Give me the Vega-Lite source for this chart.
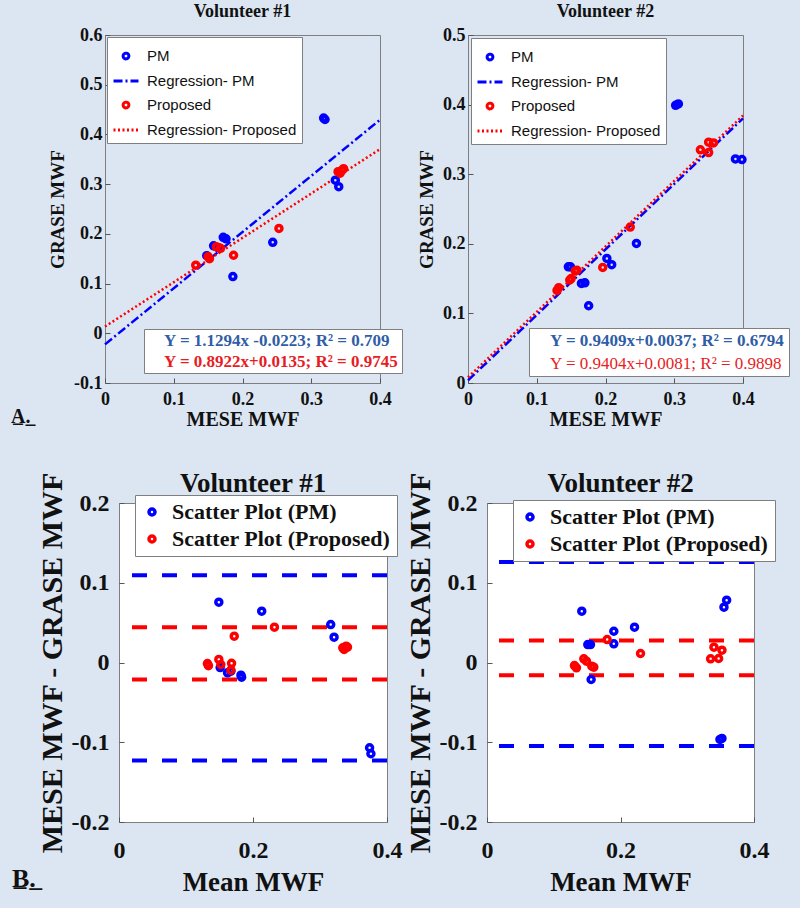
{
  "$schema": "https://vega.github.io/schema/vega-lite/v6.json",
  "background": "#dce6f2",
  "padding": {"left": 11, "top": 2, "right": 17, "bottom": 12},
  "spacing": 39,
  "center": true,
  "resolve": {"scale": {"color": "independent", "fill": "independent", "stroke": "independent"}, "legend": {"color": "independent", "fill": "independent", "stroke": "independent"}},
  "config": {
    "font": "Liberation Serif",
    "view": {"stroke": "#7f7f7f", "fill": "white"},
    "axis": {"grid": false, "domain": false, "tickColor": "#555555", "tickSize": -5, "format": "~g", "labelFont": "Liberation Serif", "labelFontWeight": "bold", "labelColor": "#111111", "titleFont": "Liberation Serif", "titleFontWeight": "bold", "titleColor": "#111111", "labelFlush": false, "labelOverlap": false, "labelBound": false},
    "title": {"font": "Liberation Serif", "fontWeight": "bold", "color": "#111111"},
    "legend": {"labelLimit": 400, "titleLimit": 0}
  },
  "vconcat": [
    {
      "resolve": {"scale": {"color": "independent", "fill": "independent", "stroke": "independent"}, "legend": {"color": "independent", "fill": "independent", "stroke": "independent"}},
      "hconcat": [
        {
          "width": 275, "height": 348,
          "title": {"text": "Volunteer #1", "fontSize": 18, "offset": 5},
          "data": {"values": [
            {"s": "PM", "x": 0.318, "y": 0.433}, {"s": "PM", "x": 0.320, "y": 0.430}, {"s": "PM", "x": 0.335, "y": 0.308}, {"s": "PM", "x": 0.340, "y": 0.295},
            {"s": "PM", "x": 0.172, "y": 0.193}, {"s": "PM", "x": 0.176, "y": 0.190}, {"s": "PM", "x": 0.158, "y": 0.176}, {"s": "PM", "x": 0.165, "y": 0.172},
            {"s": "PM", "x": 0.148, "y": 0.156}, {"s": "PM", "x": 0.244, "y": 0.183}, {"s": "PM", "x": 0.186, "y": 0.114},
            {"s": "Proposed", "x": 0.132, "y": 0.137}, {"s": "Proposed", "x": 0.150, "y": 0.154}, {"s": "Proposed", "x": 0.152, "y": 0.150}, {"s": "Proposed", "x": 0.162, "y": 0.174},
            {"s": "Proposed", "x": 0.168, "y": 0.171}, {"s": "Proposed", "x": 0.187, "y": 0.157}, {"s": "Proposed", "x": 0.253, "y": 0.211}, {"s": "Proposed", "x": 0.339, "y": 0.325},
            {"s": "Proposed", "x": 0.345, "y": 0.328}, {"s": "Proposed", "x": 0.347, "y": 0.331}, {"s": "Proposed", "x": 0.342, "y": 0.322},
            {"s": "Regression- PM", "x": 0, "y": -0.0223}, {"s": "Regression- PM", "x": 0.4, "y": 0.4295},
            {"s": "Regression- Proposed", "x": 0, "y": 0.0135}, {"s": "Regression- Proposed", "x": 0.4, "y": 0.3704}
          ]},
          "layer": [
            {
              "transform": [{"filter": "datum.s == 'Regression- PM'"}],
              "mark": {"type": "line", "strokeDash": [9, 3, 2, 3], "strokeWidth": 2.5},
              "encoding": {
                "x": {"field": "x", "type": "quantitative", "scale": {"domain": [0, 0.4], "nice": false, "zero": false}, "axis": {"values": [0, 0.1, 0.2, 0.3, 0.4], "title": "MESE MWF", "labelFontSize": 18, "titleFontSize": 20, "labelPadding": 12, "titlePadding": 1, "labelExpr": "replace(datum.label, '−', '-')"}},
                "y": {"field": "y", "type": "quantitative", "scale": {"domain": [-0.1, 0.6], "nice": false, "zero": false}, "axis": {"values": [-0.1, 0, 0.1, 0.2, 0.3, 0.4, 0.5, 0.6], "title": "GRASE MWF", "labelFontSize": 18, "titleFontSize": 19, "labelPadding": 8, "titlePadding": 6, "labelExpr": "replace(datum.label, '−', '-')"}},
                "color": {"field": "s", "type": "nominal", "scale": {"domain": ["PM", "Regression- PM", "Proposed", "Regression- Proposed"], "range": ["#0000ff", "#0000ff", "#ff0000", "#ff0000"]},
                  "legend": {"title": null, "orient": "top-left", "offset": 2, "padding": 5, "fillColor": "white", "strokeColor": "#7f7f7f", "labelFont": "Liberation Sans", "labelFontSize": 15, "labelColor": "#111111", "symbolSize": 625, "symbolStrokeWidth": 3, "labelOffset": 7, "rowPadding": 2, "symbolFillColor": "transparent",
                    "symbolType": {"expr": "indexof(datum.label, 'Regression') == 0 ? 'stroke' : 'M -0.23,0 A 0.23,0.23 0 1,1 0.23,0 A 0.23,0.23 0 1,1 -0.23,0 Z'"},
                    "symbolDash": {"expr": "datum.label == 'Regression- PM' ? [9, 3, 2, 3] : datum.label == 'Regression- Proposed' ? [2, 2.5] : [1, 0]"}}}
              }
            },
            {
              "transform": [{"filter": "datum.s == 'Regression- Proposed'"}],
              "mark": {"type": "line", "strokeDash": [2, 2.5], "strokeWidth": 2.5},
              "encoding": {
                "x": {"field": "x", "type": "quantitative"},
                "y": {"field": "y", "type": "quantitative"},
                "color": {"field": "s", "type": "nominal"}
              }
            },
            {
              "transform": [{"filter": "datum.s == 'PM' || datum.s == 'Proposed'"}],
              "mark": {"type": "point", "filled": false, "size": 36, "strokeWidth": 3.5, "opacity": 1},
              "encoding": {
                "x": {"field": "x", "type": "quantitative"},
                "y": {"field": "y", "type": "quantitative"},
                "color": {"field": "s", "type": "nominal"}
              }
            },
            {
              "data": {"values": [{"eq": "Y = 1.1294x -0.0223; R² = 0.709"}, {"eq": "Y = 0.8922x+0.0135; R² = 0.9745"}]},
              "mark": {"type": "point", "filled": true, "opacity": 0},
              "encoding": {
                "fill": {"field": "eq", "type": "nominal", "scale": {"domain": ["Y = 1.1294x -0.0223; R² = 0.709", "Y = 0.8922x+0.0135; R² = 0.9745"], "range": ["#2f5da6", "#e81c24"]},
                  "legend": {"title": null, "orient": "none", "legendX": 39, "legendY": 294, "padding": 3, "fillColor": "white", "strokeColor": "#7f7f7f", "symbolSize": 0, "symbolOpacity": 0, "symbolStrokeWidth": 0, "labelOffset": 0, "labelFont": "Liberation Serif", "labelFontSize": 17, "labelFontWeight": "bold", "rowPadding": 3,
                    "labelColor": {"expr": "indexof(datum.label, '1.1294') >= 0 ? '#2f5da6' : '#e81c24'"}}}
              }
            }
          ]
        },
        {
          "width": 275, "height": 348,
          "title": {"text": "Volunteer #2", "fontSize": 18, "offset": 5},
          "data": {"values": [
            {"s": "PM", "x": 0.302, "y": 0.399}, {"s": "PM", "x": 0.306, "y": 0.401}, {"s": "PM", "x": 0.389, "y": 0.322}, {"s": "PM", "x": 0.3985, "y": 0.321},
            {"s": "PM", "x": 0.146, "y": 0.167}, {"s": "PM", "x": 0.149, "y": 0.167}, {"s": "PM", "x": 0.165, "y": 0.143}, {"s": "PM", "x": 0.170, "y": 0.144},
            {"s": "PM", "x": 0.1755, "y": 0.111}, {"s": "PM", "x": 0.202, "y": 0.179}, {"s": "PM", "x": 0.209, "y": 0.170}, {"s": "PM", "x": 0.245, "y": 0.2005},
            {"s": "Proposed", "x": 0.1295, "y": 0.133}, {"s": "Proposed", "x": 0.132, "y": 0.137}, {"s": "Proposed", "x": 0.148, "y": 0.148}, {"s": "Proposed", "x": 0.150, "y": 0.150},
            {"s": "Proposed", "x": 0.156, "y": 0.161}, {"s": "Proposed", "x": 0.1585, "y": 0.162}, {"s": "Proposed", "x": 0.196, "y": 0.166}, {"s": "Proposed", "x": 0.236, "y": 0.224},
            {"s": "Proposed", "x": 0.338, "y": 0.335}, {"s": "Proposed", "x": 0.350, "y": 0.331}, {"s": "Proposed", "x": 0.350, "y": 0.346}, {"s": "Proposed", "x": 0.357, "y": 0.345},
            {"s": "Regression- PM", "x": 0, "y": 0.0037}, {"s": "Regression- PM", "x": 0.4, "y": 0.3801},
            {"s": "Regression- Proposed", "x": 0, "y": 0.0081}, {"s": "Regression- Proposed", "x": 0.4, "y": 0.3843}
          ]},
          "layer": [
            {
              "transform": [{"filter": "datum.s == 'Regression- PM'"}],
              "mark": {"type": "line", "strokeDash": [9, 3, 2, 3], "strokeWidth": 2.5},
              "encoding": {
                "x": {"field": "x", "type": "quantitative", "scale": {"domain": [0, 0.4], "nice": false, "zero": false}, "axis": {"values": [0, 0.1, 0.2, 0.3, 0.4], "title": "MESE MWF", "labelFontSize": 18, "titleFontSize": 20, "labelPadding": 12, "titlePadding": 1, "labelExpr": "replace(datum.label, '−', '-')"}},
                "y": {"field": "y", "type": "quantitative", "scale": {"domain": [0, 0.5], "nice": false, "zero": false}, "axis": {"values": [0, 0.1, 0.2, 0.3, 0.4, 0.5], "title": "GRASE MWF", "labelFontSize": 18, "titleFontSize": 19, "labelPadding": 8, "titlePadding": 6, "labelExpr": "replace(datum.label, '−', '-')"}},
                "color": {"field": "s", "type": "nominal", "scale": {"domain": ["PM", "Regression- PM", "Proposed", "Regression- Proposed"], "range": ["#0000ff", "#0000ff", "#ff0000", "#ff0000"]},
                  "legend": {"title": null, "orient": "top-left", "offset": 3, "padding": 5, "fillColor": "white", "strokeColor": "#7f7f7f", "labelFont": "Liberation Sans", "labelFontSize": 15, "labelColor": "#111111", "symbolSize": 625, "symbolStrokeWidth": 3, "labelOffset": 7, "rowPadding": 2, "symbolFillColor": "transparent",
                    "symbolType": {"expr": "indexof(datum.label, 'Regression') == 0 ? 'stroke' : 'M -0.23,0 A 0.23,0.23 0 1,1 0.23,0 A 0.23,0.23 0 1,1 -0.23,0 Z'"},
                    "symbolDash": {"expr": "datum.label == 'Regression- PM' ? [9, 3, 2, 3] : datum.label == 'Regression- Proposed' ? [2, 2.5] : [1, 0]"}}}
              }
            },
            {
              "transform": [{"filter": "datum.s == 'Regression- Proposed'"}],
              "mark": {"type": "line", "strokeDash": [2, 2.5], "strokeWidth": 2.5},
              "encoding": {
                "x": {"field": "x", "type": "quantitative"},
                "y": {"field": "y", "type": "quantitative"},
                "color": {"field": "s", "type": "nominal"}
              }
            },
            {
              "transform": [{"filter": "datum.s == 'PM' || datum.s == 'Proposed'"}],
              "mark": {"type": "point", "filled": false, "size": 36, "strokeWidth": 3.5, "opacity": 1},
              "encoding": {
                "x": {"field": "x", "type": "quantitative"},
                "y": {"field": "y", "type": "quantitative"},
                "color": {"field": "s", "type": "nominal"}
              }
            },
            {
              "data": {"values": [{"eq": "Y = 0.9409x+0.0037; R² = 0.6794"}, {"eq": "Y = 0.9404x+0.0081; R² = 0.9898"}]},
              "mark": {"type": "point", "filled": true, "opacity": 0},
              "encoding": {
                "fill": {"field": "eq", "type": "nominal", "scale": {"domain": ["Y = 0.9409x+0.0037; R² = 0.6794", "Y = 0.9404x+0.0081; R² = 0.9898"], "range": ["#2f5da6", "#e81c24"]},
                  "legend": {"title": null, "orient": "none", "legendX": 61, "legendY": 293, "padding": 4, "fillColor": "white", "strokeColor": "#7f7f7f", "symbolSize": 0, "symbolOpacity": 0, "symbolStrokeWidth": 0, "labelOffset": 0, "labelFont": "Liberation Serif", "labelFontSize": 17, "rowPadding": 5,
                    "labelColor": {"expr": "indexof(datum.label, '0.9409') >= 0 ? '#2f5da6' : '#e81c24'"},
                    "labelFontWeight": {"expr": "indexof(datum.label, '0.9409') >= 0 ? 'bold' : 'normal'"}}}
              }
            }
          ]
        }
      ],
      "spacing": 88,
      "bounds": "flush",
      "title": {"text": "A̲.̲", "orient": "bottom", "anchor": "start", "frame": "group", "dx": -94, "dy": -23, "offset": 0, "fontSize": 20}
    },
    {
      "resolve": {"scale": {"color": "independent", "fill": "independent", "stroke": "independent"}, "legend": {"color": "independent", "fill": "independent", "stroke": "independent"}},
      "hconcat": [
        {
          "width": 268, "height": 319,
          "title": {"text": "Volunteer #1", "fontSize": 27, "offset": -26},
          "layer": [
            {
              "data": {"values": [{"g": "PM", "y": 0.1094}, {"g": "PM", "y": -0.1228}, {"g": "Proposed", "y": 0.0443}, {"g": "Proposed", "y": -0.0213}]},
              "mark": {"type": "rule", "strokeDash": [15, 15], "strokeWidth": 4},
              "encoding": {
                "y": {"field": "y", "type": "quantitative", "scale": {"domain": [-0.2, 0.2], "nice": false, "zero": false}, "axis": {"values": [-0.2, -0.1, 0, 0.1, 0.2], "title": "MESE MWF - GRASE MWF", "labelFontSize": 24, "titleFontSize": 30, "labelPadding": 15, "titlePadding": 4, "labelExpr": "replace(datum.label, '−', '-')"}},
                "stroke": {"field": "g", "type": "nominal", "scale": {"domain": ["PM", "Proposed"], "range": ["#0000ff", "#ff0000"]}, "legend": null}
              }
            },
            {
              "data": {"values": [
                {"s": "Scatter Plot (PM)", "x": 0.149, "y": 0.0756}, {"s": "Scatter Plot (PM)", "x": 0.213, "y": 0.0643}, {"s": "Scatter Plot (PM)", "x": 0.316, "y": 0.0476}, {"s": "Scatter Plot (PM)", "x": 0.321, "y": 0.0317},
                {"s": "Scatter Plot (PM)", "x": 0.374, "y": -0.1069}, {"s": "Scatter Plot (PM)", "x": 0.376, "y": -0.1144}, {"s": "Scatter Plot (PM)", "x": 0.151, "y": -0.0063}, {"s": "Scatter Plot (PM)", "x": 0.162, "y": -0.0129},
                {"s": "Scatter Plot (PM)", "x": 0.167, "y": -0.0109}, {"s": "Scatter Plot (PM)", "x": 0.182, "y": -0.0159}, {"s": "Scatter Plot (PM)", "x": 0.183, "y": -0.0184},
                {"s": "Scatter Plot (Proposed)", "x": 0.232, "y": 0.0443}, {"s": "Scatter Plot (Proposed)", "x": 0.172, "y": 0.033}, {"s": "Scatter Plot (Proposed)", "x": 0.132, "y": -0.0013}, {"s": "Scatter Plot (Proposed)", "x": 0.1335, "y": -0.004},
                {"s": "Scatter Plot (Proposed)", "x": 0.149, "y": 0.0038}, {"s": "Scatter Plot (Proposed)", "x": 0.152, "y": -0.0025}, {"s": "Scatter Plot (Proposed)", "x": 0.168, "y": -0.001}, {"s": "Scatter Plot (Proposed)", "x": 0.167, "y": -0.0096},
                {"s": "Scatter Plot (Proposed)", "x": 0.334, "y": 0.0184}, {"s": "Scatter Plot (Proposed)", "x": 0.339, "y": 0.0205}, {"s": "Scatter Plot (Proposed)", "x": 0.341, "y": 0.0192}, {"s": "Scatter Plot (Proposed)", "x": 0.336, "y": 0.0163}
              ]},
              "mark": {"type": "point", "filled": false, "size": 36, "strokeWidth": 3.5, "opacity": 1},
              "encoding": {
                "x": {"field": "x", "type": "quantitative", "scale": {"domain": [0, 0.4], "nice": false, "zero": false}, "axis": {"values": [0, 0.2, 0.4], "title": "Mean MWF", "labelFontSize": 24, "titleFontSize": 27, "labelPadding": 21, "titlePadding": 7, "labelExpr": "replace(datum.label, '−', '-')"}},
                "y": {"field": "y", "type": "quantitative"},
                "color": {"field": "s", "type": "nominal", "scale": {"domain": ["Scatter Plot (PM)", "Scatter Plot (Proposed)"], "range": ["#0000ff", "#ff0000"]},
                  "legend": {"title": null, "orient": "none", "legendX": 16, "legendY": -8, "padding": 6, "fillColor": "white", "strokeColor": "#7f7f7f", "labelFont": "Liberation Serif", "labelFontSize": 22, "labelFontWeight": "bold", "labelColor": "#111111", "symbolType": "circle", "symbolSize": 36, "symbolStrokeWidth": 3.5, "labelOffset": 9, "rowPadding": 5}}
              }
            }
          ]
        },
        {
          "width": 267, "height": 319,
          "title": {"text": "Volunteer #2", "fontSize": 27, "offset": -26},
          "layer": [
            {
              "data": {"values": [{"g": "PM", "y": 0.126}, {"g": "PM", "y": -0.1048}, {"g": "Proposed", "y": 0.0276}, {"g": "Proposed", "y": -0.0159}]},
              "mark": {"type": "rule", "strokeDash": [15, 15], "strokeWidth": 4},
              "encoding": {
                "y": {"field": "y", "type": "quantitative", "scale": {"domain": [-0.2, 0.2], "nice": false, "zero": false}, "axis": {"values": [-0.2, -0.1, 0, 0.1, 0.2], "title": "MESE MWF - GRASE MWF", "labelFontSize": 24, "titleFontSize": 30, "labelPadding": 15, "titlePadding": 4, "labelExpr": "replace(datum.label, '−', '-')"}},
                "stroke": {"field": "g", "type": "nominal", "scale": {"domain": ["PM", "Proposed"], "range": ["#0000ff", "#ff0000"]}, "legend": null}
              }
            },
            {
              "data": {"values": [
                {"s": "Scatter Plot (PM)", "x": 0.142, "y": 0.0643}, {"s": "Scatter Plot (PM)", "x": 0.190, "y": 0.0392}, {"s": "Scatter Plot (PM)", "x": 0.190, "y": 0.0234}, {"s": "Scatter Plot (PM)", "x": 0.221, "y": 0.0443},
                {"s": "Scatter Plot (PM)", "x": 0.151, "y": 0.0225}, {"s": "Scatter Plot (PM)", "x": 0.155, "y": 0.0225}, {"s": "Scatter Plot (PM)", "x": 0.156, "y": -0.0213}, {"s": "Scatter Plot (PM)", "x": 0.355, "y": 0.0693},
                {"s": "Scatter Plot (PM)", "x": 0.359, "y": 0.0781}, {"s": "Scatter Plot (PM)", "x": 0.349, "y": -0.0965}, {"s": "Scatter Plot (PM)", "x": 0.352, "y": -0.0952},
                {"s": "Scatter Plot (Proposed)", "x": 0.180, "y": 0.0288}, {"s": "Scatter Plot (Proposed)", "x": 0.230, "y": 0.0113}, {"s": "Scatter Plot (Proposed)", "x": 0.131, "y": -0.0038}, {"s": "Scatter Plot (Proposed)", "x": 0.134, "y": -0.0067},
                {"s": "Scatter Plot (Proposed)", "x": 0.145, "y": 0.0046}, {"s": "Scatter Plot (Proposed)", "x": 0.149, "y": 0.0017}, {"s": "Scatter Plot (Proposed)", "x": 0.157, "y": -0.0046}, {"s": "Scatter Plot (Proposed)", "x": 0.160, "y": -0.0058},
                {"s": "Scatter Plot (Proposed)", "x": 0.335, "y": 0.0046}, {"s": "Scatter Plot (Proposed)", "x": 0.347, "y": 0.005}, {"s": "Scatter Plot (Proposed)", "x": 0.340, "y": 0.0192}, {"s": "Scatter Plot (Proposed)", "x": 0.352, "y": 0.0155}
              ]},
              "mark": {"type": "point", "filled": false, "size": 36, "strokeWidth": 3.5, "opacity": 1},
              "encoding": {
                "x": {"field": "x", "type": "quantitative", "scale": {"domain": [0, 0.4], "nice": false, "zero": false}, "axis": {"values": [0, 0.2, 0.4], "title": "Mean MWF", "labelFontSize": 24, "titleFontSize": 27, "labelPadding": 21, "titlePadding": 7, "labelExpr": "replace(datum.label, '−', '-')"}},
                "y": {"field": "y", "type": "quantitative"},
                "color": {"field": "s", "type": "nominal", "scale": {"domain": ["Scatter Plot (PM)", "Scatter Plot (Proposed)"], "range": ["#0000ff", "#ff0000"]},
                  "legend": {"title": null, "orient": "none", "legendX": 26, "legendY": -3, "padding": 6, "fillColor": "white", "strokeColor": "#7f7f7f", "labelFont": "Liberation Serif", "labelFontSize": 22, "labelFontWeight": "bold", "labelColor": "#111111", "symbolType": "circle", "symbolSize": 36, "symbolStrokeWidth": 3.5, "labelOffset": 9, "rowPadding": 5}}
              }
            }
          ]
        }
      ],
      "spacing": 100,
      "bounds": "flush",
      "title": {"text": "B̲.̲", "orient": "bottom", "anchor": "start", "frame": "group", "dx": -107, "dy": -30, "offset": 0, "fontSize": 26}
    }
  ]
}
